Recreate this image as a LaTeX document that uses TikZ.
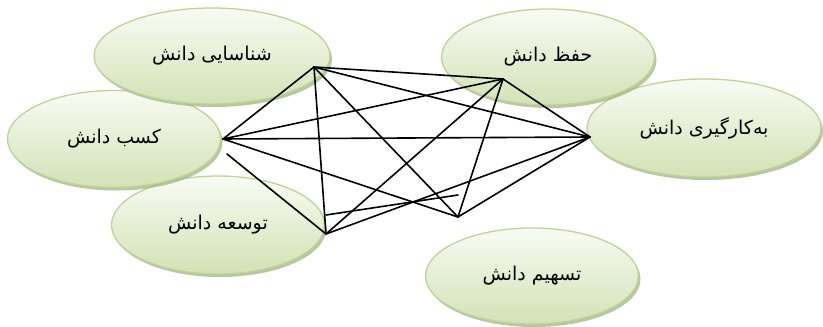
\documentclass[tikz,border=0pt]{standalone}
\usepackage{fontspec}
\TeXXeTstate=1
\newfontfamily\arabicfont[Script=Arabic]{DejaVu Sans}
\usetikzlibrary{shapes.geometric,shadows}
\definecolor{elborder}{HTML}{BFD397}
\definecolor{eltop}{HTML}{F9FBF4}
\definecolor{elbot}{HTML}{D2E2B5}
\definecolor{elshadow}{HTML}{A6B88A}
\tikzset{
  bubble/.style={ellipse, draw=elborder, line width=1.3pt, top color=eltop, bottom color=elbot,
    inner sep=0pt, font=\arabicfont\fontsize{19}{22}\selectfont,
    drop shadow={shadow xshift=2pt, shadow yshift=-3pt, fill=elshadow, opacity=0.8}},
  link/.style={line width=1.6pt, black, line cap=round}
}
\newcommand{\rtl}[1]{\beginR #1\endR}
\begin{document}
\begin{tikzpicture}[x=1pt,y=1pt]
\useasboundingbox (0,0) rectangle (823,327);
% ellipses
\node[bubble, minimum width=213pt, minimum height=98pt] (towsee) at (218,102) {\rtl{توسعه دانش}};
\node[bubble, minimum width=213pt, minimum height=97pt] (kasb) at (114,188) {\rtl{کسب دانش}};
\node[bubble, minimum width=236pt, minimum height=96pt] (shenasai) at (212,271) {\rtl{شناسایی دانش}};
\node[bubble, minimum width=234pt, minimum height=98pt] (bekar) at (704,199) {\rtl{به‌کارگیری دانش}};
\node[bubble, minimum width=213pt, minimum height=96pt] (hefz) at (548,270) {\rtl{حفظ دانش}};
\node[bubble, minimum width=213pt, minimum height=96pt] (tashim) at (532,51) {\rtl{تسهیم دانش}};
% link points
\coordinate (p1) at (314,260);
\coordinate (p2) at (503,248);
\coordinate (p3) at (590,190);
\coordinate (p4) at (223,188);
\coordinate (p4b) at (227,173);
\coordinate (p5) at (326,93);
\coordinate (p5b) at (326,112);
\coordinate (p6) at (458,110);
\coordinate (q) at (458,132);
% links
\draw[link] (p1) -- (p4);
\draw[link] (p1) -- (p2);
\draw[link] (p1) -- (p3);
\draw[link] (p1) -- (p5);
\draw[link] (p1) -- (p6);
\draw[link] (p2) -- (p4);
\draw[link] (p2) -- (p3);
\draw[link] (p2) -- (p5);
\draw[link] (p2) -- (p6);
\draw[link] (p4) -- (p3);
\draw[link] (p4) -- (p6);
\draw[link] (p4b) -- (p5);
\draw[link] (p3) -- (p5);
\draw[link] (p3) -- (p6);
\draw[link] (p5b) -- (q);
\end{tikzpicture}
\end{document}
